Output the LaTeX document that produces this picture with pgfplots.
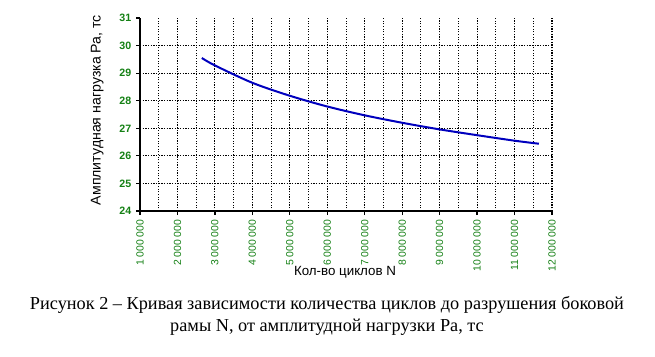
\documentclass[border=0pt]{standalone}
\usepackage{pgfplots}
\pgfplotsset{compat=1.18}
\usepackage{fontspec}
\setmainfont{Liberation Sans}
\newfontfamily\timesfont{Liberation Serif}
\definecolor{tickgreen}{RGB}{20,128,20}
\definecolor{curveblue}{RGB}{0,0,190}
\begin{document}
\begin{tikzpicture}[x=1pt,y=1pt]
\useasboundingbox (-105,-108.75) rectangle (386.25,158.25);
\begin{axis}[
  at={(0,0)}, anchor=south west,
  scale only axis, width=309pt, height=144.75pt,
  xmin=1, xmax=12, ymin=24, ymax=31,
  /pgf/number format/assume math mode=true,
  axis lines=left, axis line style={-, line width=1.3pt},
  xtick={1,2,3,4,5,6,7,8,9,10,11,12},
  xticklabels={1 000 000,2 000 000,3 000 000,4 000 000,5 000 000,6 000 000,7 000 000,8 000 000,9 000 000,10 000 000,11 000 000,12 000 000},
  minor xtick={1.5,2.5,3.5,4.5,5.5,6.5,7.5,8.5,9.5,10.5,11.5},
  ytick={24,25,26,27,28,29,30},
  extra y ticks={31}, extra tick style={grid=none},
  xmajorgrids, xminorgrids, ymajorgrids,
  major grid style={black, dash pattern=on 0.9pt off 1.1pt, line width=0.85pt},
  minor grid style={black, dash pattern=on 0.8pt off 1.2pt, line width=0.7pt},
  tick align=outside, major tick length=3pt, minor tick length=0pt,
  tick style={black, line width=0.9pt},
  xticklabel style={rotate=90, anchor=east, font=\fontsize{7.8}{8}\selectfont, text=tickgreen},
  yticklabel style={font=\bfseries\fontsize{8}{9}\selectfont, text=tickgreen},
  xlabel={Кол-во циклов N},
  xlabel style={at={(axis description cs:0.4976,-0.316)}, anchor=center, font=\fontsize{10}{12}\selectfont},
  ylabel={Амплитудная нагрузка Ра, тс},
  ylabel style={at={(axis description cs:-0.104,0.523)}, anchor=center, rotate=0, font=\fontsize{10.6}{12}\selectfont},
]
\addplot[curveblue, line width=1.5pt, smooth] coordinates {
(2.65,29.55) (3,29.28) (4,28.65) (5,28.18) (6,27.79) (7,27.47) (8,27.20) (9,26.96) (10,26.75) (11,26.55) (11.65,26.44)
};
\end{axis}
\node[font=\timesfont\fontsize{13.7}{16}\selectfont] at (140.25,-70.5) {Рисунок 2 – Кривая зависимости количества циклов до разрушения боковой};
\node[font=\timesfont\fontsize{13.7}{16}\selectfont] at (140.25,-87) {рамы N, от амплитудной нагрузки Ра, тс};
\end{tikzpicture}
\end{document}
